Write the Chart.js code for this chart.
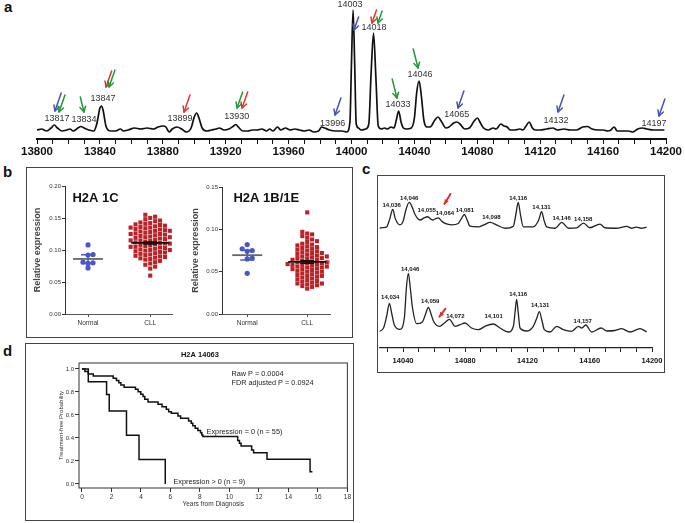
<!DOCTYPE html>
<html>
<head>
<meta charset="utf-8">
<script src="https://cdn.jsdelivr.net/npm/chart.js@4.4.1/dist/chart.umd.min.js"></script>
<style>
  body { margin: 0; background: #fff; }
  #wrap { position: relative; width: 685px; height: 523px; overflow: hidden; font-family: "Liberation Sans", Arial, sans-serif; }
  canvas { position: absolute; }
  .box { position: absolute; border: 1.5px solid #444; box-sizing: border-box; }
  .tag { position: absolute; font-weight: bold; font-size: 15px; line-height: 15px; color: #111; }
</style>
</head>
<body>
<div id="wrap">
  <div class="box" style="left:26px;top:167px;width:327px;height:171px"></div>
  <div class="box" style="left:377px;top:175px;width:288px;height:198px"></div>
  <div class="box" style="left:25px;top:343px;width:329px;height:178px"></div>
  <div class="tag" style="left:4px;top:-1px">a</div>
  <div class="tag" style="left:3px;top:164px">b</div>
  <div class="tag" style="left:362px;top:161px">c</div>
  <div class="tag" style="left:3px;top:343px">d</div>
  <canvas id="chartA" width="685" height="165" style="left:0;top:0"></canvas>
  <canvas id="chartB1" width="150" height="158" style="left:30px;top:175px"></canvas>
  <canvas id="chartB2" width="160" height="158" style="left:185px;top:175px"></canvas>
  <canvas id="chartCTop" width="300" height="82" style="left:370px;top:176px"></canvas>
  <canvas id="chartCBot" width="300" height="115" style="left:370px;top:258px"></canvas>
  <canvas id="chartD" width="325" height="174" style="left:27px;top:345px"></canvas>
</div>
<script>
// ---- panel a: intact mass spectrum ----
const specMass = [13800, 13803, 13806, 13809, 13811, 13813, 13816, 13819, 13821, 13823, 13826, 13828, 13830, 13833, 13836, 13838, 13840, 13841, 13842, 13844,
  13847, 13850, 13853, 13855, 13858, 13862, 13866, 13870, 13874, 13877, 13880, 13882, 13884, 13886, 13889, 13892, 13895, 13898, 13900, 13901.5,
  13903, 13905, 13908, 13911, 13914, 13916, 13919, 13922, 13925, 13926.5, 13928, 13931, 13934, 13937, 13940, 13943, 13946, 13948, 13950, 13953,
  13955, 13958, 13961, 13964, 13967, 13970, 13973, 13976, 13979, 13981, 13983, 13986, 13990, 13994, 13997, 13999, 14000, 14001, 14002, 14003,
  14004.5, 14006, 14009, 14011, 14012.5, 14014, 14015.5, 14017, 14019, 14021, 14023, 14025, 14027, 14028.5, 14030, 14031.5, 14033, 14035, 14038, 14040,
  14041.5, 14043, 14044.5, 14046, 14048, 14050, 14053, 14055, 14057, 14060, 14062, 14065, 14067, 14069, 14072, 14075, 14078, 14080, 14082, 14084,
  14087, 14090, 14092, 14095, 14097, 14099, 14101, 14104, 14107, 14109, 14111, 14113, 14115, 14117, 14120, 14124, 14128, 14131, 14135, 14139,
  14143, 14147, 14150, 14153, 14157, 14160, 14163, 14165, 14167, 14169, 14172, 14176, 14179, 14182, 14185, 14188, 14192, 14196, 14199];
const specInt = [2, 3, 1, 4, 7, 4, 1, 2, 3, 1, 4, 5.5, 4, 2, 1, 8, 24, 26, 22, 5,
  1, 1, 3, 1, 2, 4, 3, 4, 3, 5, 6, 5, 0, 3, 5, 3, 0, 4, 15, 19,
  14, 4, 1, 2, 3, 4, 2, 3, 6, 7.5, 5, 1, 1, 2, 2, 3, 1, 3, 1, 5,
  2, 4, 2, 3, 2, 1, 2, 0, 1, 5, 4, 2, 1, 1, 0, 10, 70, 122, 70, 8,
  4, 2, 3, 8, 60, 99, 55, 6, 3, 4, 3, 5, 4, 12, 21, 10, 4, 3, 4, 14,
  40, 51, 35, 12, 5, 5, 12, 15, 11, 4, 5, 9, 10, 8, 3, 4, 11, 14, 9, 4,
  2, 4, 3, 8, 6, 5, 2, 2, 3, 2, 6, 10, 4, 2, 2, 3, 4, 2, 3, 2,
  2, 5, 5.5, 3, 2, 2, 1, 2, 5, 1, 1, 1, 0, 3, 4, 3, 2, 2, 2];
const peakText = ['13817', '13834', '13847', '13899', '13930', '13996', '14003', '14018', '14033', '14046', '14065', '14132', '14197'];
const peakMass = [13812.7, 13829.9, 13842, 13891, 13927, 13988, 13999, 14014.3, 14029.6, 14043.6, 14067, 14130, 14192.4];
const peakInt = [13, 12, 33, 13, 15, 8, 127, 104, 27, 57, 17, 11, 8];

const BLUE = '#4352b8', GREEN = '#22983a', RED = '#e2352a';
const arrowColor = [BLUE, GREEN, GREEN, RED, GREEN, RED, GREEN, RED, BLUE, BLUE, RED, GREEN, GREEN, GREEN, BLUE, BLUE, BLUE];
const arrowMass = [13811.4, 13814, 13829.9, 13843.9, 13845.8, 13893.5, 13927.2, 13930.4, 13989.5, 14001.6, 14013, 14016.8, 14028.9, 14042.3, 14067.7, 14131.3, 14195.5];
const arrowInt = [21, 20, 20, 45, 45, 20, 24, 24, 17, 102, 109, 109, 34, 64, 24, 20, 16];
const arrowLean = [-1, -1, 1, -1, -1, -1, -1, -1, -1, -1, -1, -1, 1, 1, -1, -1, -1];
const arrowLen = [18, 17, 15, 16, 17, 17, 16, 16, 17, 13, 13, 12, 19, 19, 17, 17, 17];

// ---- panel b: relative expression ----
const groups = ['Normal', 'CLL'];
const normal1C = [0.108, 0.093, 0.092, 0.081, 0.080, 0.079, 0.072];
const cll1C = [0.155, 0.152, 0.150, 0.148, 0.146, 0.145, 0.143, 0.142, 0.141, 0.140,
  0.139, 0.138, 0.137, 0.136, 0.135, 0.135, 0.134, 0.133, 0.132, 0.131,
  0.130, 0.130, 0.129, 0.128, 0.127, 0.126, 0.125, 0.125, 0.124, 0.123,
  0.122, 0.121, 0.120, 0.120, 0.119, 0.118, 0.117, 0.116, 0.115, 0.115,
  0.114, 0.113, 0.112, 0.111, 0.110, 0.110, 0.109, 0.108, 0.107, 0.106,
  0.105, 0.105, 0.104, 0.103, 0.102, 0.101, 0.100, 0.100, 0.099, 0.098,
  0.097, 0.096, 0.095, 0.094, 0.093, 0.092, 0.091, 0.090, 0.089, 0.088,
  0.087, 0.086, 0.085, 0.083, 0.081, 0.079, 0.077, 0.074, 0.071, 0.060];
const normal1B = [0.082, 0.077, 0.075, 0.074, 0.066, 0.065, 0.048];
const cll1B = [0.120, 0.097, 0.095, 0.094, 0.092, 0.090, 0.088, 0.086, 0.085, 0.083,
  0.082, 0.081, 0.080, 0.079, 0.078, 0.077, 0.076, 0.075, 0.074, 0.073,
  0.072, 0.072, 0.071, 0.070, 0.069, 0.068, 0.068, 0.067, 0.066, 0.066,
  0.065, 0.064, 0.064, 0.063, 0.062, 0.062, 0.061, 0.061, 0.060, 0.060,
  0.059, 0.059, 0.058, 0.058, 0.057, 0.056, 0.056, 0.055, 0.055, 0.054,
  0.053, 0.053, 0.052, 0.051, 0.050, 0.050, 0.049, 0.048, 0.047, 0.046,
  0.045, 0.045, 0.044, 0.043, 0.042, 0.041, 0.040, 0.039, 0.038, 0.037,
  0.036, 0.036, 0.035, 0.034, 0.033, 0.032, 0.030];
const mean1C = [0.086, 0.111], sem1C = [0.0065, 0.0015];
const mean1B = [0.0695, 0.0615], sem1B = [0.0058, 0.0015];

// ---- panel c: zoomed spectra ----
const cTopMass = [14024, 14027, 14029.5, 14031.5, 14033.4, 14035, 14038, 14040, 14042, 14044, 14046, 14047.7, 14051, 14053.5, 14055.6, 14057.5, 14059, 14061, 14062.7, 14065,
  14067, 14071.3, 14075.5, 14077.5, 14079.4, 14081.2, 14083, 14088.4, 14092, 14096, 14100, 14105.6, 14110.9, 14112.5, 14114, 14115.6, 14117.3, 14123.7, 14127.2, 14129,
  14130.8, 14132.3, 14137.7, 14142, 14146.4, 14151.6, 14156, 14160, 14166.6, 14169.8, 14177, 14183.8, 14187, 14190, 14193, 14196.6];
const cTopInt = [0, 1, 2, 14, 27.5, 14, 5, 10, 28, 37.5, 30, 20, 12, 15, 16.7, 14, 12, 14, 15, 10,
  7, 5, 7, 14, 20, 12, 3, 2, 5, 8.5, 5, 0, 3, 20, 37.5, 18, 2, 2, 12, 24,
  10, 2, 0, 8.5, 0, 0.7, 7.5, 0.7, 6, 0.7, 0, 2.7, 0, 1.7, 0, 1.7];
const cBotMass = [14023, 14027.3, 14029.5, 14031.2, 14032.8, 14034.4, 14038, 14040.9, 14042.2, 14043.4, 14044.6, 14046, 14048.8, 14052.4, 14054.5, 14056.3, 14058, 14059.5, 14063.4, 14066.6,
  14069.8, 14073.4, 14076.6, 14079.8, 14084, 14088.4, 14092.7, 14098, 14102.3, 14107.7, 14110.9, 14112, 14113, 14114, 14115.2, 14119.5, 14123.7, 14126, 14127.6, 14129.2,
  14130.8, 14134.5, 14138.8, 14143, 14148.4, 14152.7, 14154.9, 14157.4, 14161.3, 14167.3, 14171, 14176.2, 14180.5, 14185.9, 14192.3, 14196.6];
const cBotInt = [0, 3.5, 16, 28.7, 18, 7, 2.7, 15, 45, 58.7, 45, 25, 8.3, 10, 18, 24.7, 18, 11, 5.7, 9,
  12.7, 5.7, 7.3, 9, 4, 2.3, 5.7, 8, 4, 0, 5.7, 20, 32.7, 20, 4, 1, 5.7, 14, 20.3, 12,
  2.3, 0, 5.7, 2.3, 0.7, 5.7, 4, 7, 0, 4, 1, 1.5, 3.3, 0, 3.3, 0];
const cTopText = ['14,036', '14,046', '14,055', '14,064', '14,081', '14,098', '14,116', '14,131', '14,146', '14,158'];
const cTopLabMass = [14032.7, 14044, 14055.2, 14066.9, 14079.7, 14096.8, 14114, 14129, 14141.9, 14155.8];
const cTopLabInt = [33.7, 43, 26.3, 21, 26.3, 15.3, 43, 29.7, 14.3, 13];
const cBotText = ['14,034', '14,046', '14,059', '14,072', '14,101', '14,116', '14,131', '14,157'];
const cBotLabMass = [14031.8, 14044.6, 14057.5, 14073.6, 14098.2, 14114, 14128.1, 14155.5];
const cBotLabInt = [34.7, 62.7, 30.3, 16, 15.3, 38, 27, 10.3];

// ---- panel d: Kaplan-Meier ----
const kmTime0 = [0, 0.20, 0.43, 0.77, 2.12, 2.34, 2.50, 2.64, 2.86, 3.63, 3.81, 3.99, 4.14, 4.26, 4.48, 5.16, 5.43, 5.72, 5.88, 6.06,
  6.51, 6.69, 7.23, 7.41, 7.52, 7.68, 7.86, 8.04, 8.13, 8.20, 10.56, 10.68, 10.79, 11.51, 11.64, 12.55, 15.47, 15.63];
const kmSurv0 = [1.0, 0.977, 0.957, 0.939, 0.919, 0.899, 0.880, 0.861, 0.841, 0.823, 0.803, 0.780, 0.760, 0.737, 0.713, 0.693, 0.672, 0.649, 0.629, 0.614,
  0.591, 0.571, 0.548, 0.528, 0.507, 0.484, 0.464, 0.446, 0.426, 0.413, 0.377, 0.354, 0.330, 0.296, 0.272, 0.214, 0.107, 0.107];
const kmTime1 = [0, 0.43, 1.67, 1.85, 3.02, 3.87, 5.65];
const kmSurv1 = [1.0, 0.889, 0.778, 0.635, 0.423, 0.212, 0];

const FONT = '"Liberation Sans", Arial, sans-serif';
Chart.defaults.font.family = FONT;
Chart.defaults.color = '#222';
Chart.defaults.animation = false;
Chart.defaults.plugins.legend.display = false;
Chart.defaults.plugins.tooltip.enabled = false;

function pts(xs, ys) {
    return xs.map((v, i) => ({ x: v, y: ys[i] }));
}

// text placed in data coordinates
function noteLayer(items) {
    return {
        id: 'noteLayer',
        afterDatasetsDraw(chart) {
            const { ctx, scales: { x, y } } = chart;
            ctx.save();
            items.forEach(n => {
                ctx.font = n.font;
                ctx.fillStyle = n.color || '#222';
                ctx.textAlign = n.align || 'center';
                ctx.textBaseline = 'middle';
                ctx.fillText(n.text, x.getPixelForValue(n.x), y.getPixelForValue(n.y));
            });
            ctx.restore();
        }
    };
}

// arrows whose head sits on a data point, tail offset in pixels
function arrowLayer(items) {
    return {
        id: 'arrowLayer',
        afterDatasetsDraw(chart) {
            const { ctx, scales: { x, y } } = chart;
            ctx.save();
            ctx.lineCap = 'round';
            ctx.lineJoin = 'round';
            items.forEach(a => {
                const hx = x.getPixelForValue(a.x), hy = y.getPixelForValue(a.y);
                const tx = hx + a.dx, ty = hy + a.dy;
                const ang = Math.atan2(hy - ty, hx - tx);
                ctx.strokeStyle = a.color;
                ctx.fillStyle = a.color;
                ctx.lineWidth = a.w;
                ctx.beginPath();
                ctx.moveTo(tx, ty);
                ctx.lineTo(hx, hy);
                ctx.stroke();
                ctx.beginPath();
                ctx.moveTo(hx - a.head * Math.cos(ang - 0.5), hy - a.head * Math.sin(ang - 0.5));
                ctx.lineTo(hx, hy);
                ctx.lineTo(hx - a.head * Math.cos(ang + 0.5), hy - a.head * Math.sin(ang + 0.5));
                if (a.fill) { ctx.closePath(); ctx.fill(); } else { ctx.stroke(); }
            });
            ctx.restore();
        }
    };
}

// simple beeswarm: stack equal values side by side
function swarm(values, center, stepX, stepY) {
    const placed = [];
    return values.slice().sort((a, b) => a - b).map(v => {
        let k = 0, off = 0;
        while (true) {
            off = k === 0 ? 0 : (k % 2 ? 1 : -1) * Math.ceil(k / 2) * stepX;
            if (!placed.some(p => Math.abs(p.y - v) < stepY && Math.abs(p.x - off) < stepX * 0.99)) break;
            k++;
        }
        placed.push({ x: off, y: v });
        return { x: center + off, y: v };
    });
}

// ===== a =====
new Chart(document.getElementById('chartA').getContext('2d'), {
    type: 'line',
    data: {
        datasets: [{
            data: pts(specMass, specInt),
            borderColor: '#111',
            borderWidth: 1.7,
            pointRadius: 0,
            cubicInterpolationMode: 'monotone'
        }]
    },
    options: {
        responsive: false,
        layout: { padding: { left: 37, right: 19, top: 5, bottom: 0 } },
        scales: {
            x: {
                type: 'linear', min: 13800, max: 14200,
                ticks: {
                    stepSize: 10, autoSkip: false, maxRotation: 0, padding: 1, color: '#111',
                    font: { size: 11.5, weight: 'bold' },
                    callback: v => (v % 40 === 0 ? String(v) : '')
                },
                grid: { drawOnChartArea: false, tickLength: 5, color: '#111' },
                border: { color: '#111', width: 2 },
                afterFit: s => { s.height = 26; }
            },
            y: { display: false, min: -7, max: 127 }
        }
    },
    plugins: [
        noteLayer(peakText.map((t, i) => ({ text: t, x: peakMass[i], y: peakInt[i], font: '9px ' + FONT, color: '#333' }))),
        arrowLayer(arrowColor.map((c, i) => ({
            color: c, x: arrowMass[i], y: arrowInt[i],
            dx: arrowLean[i] < 0 ? arrowLen[i] * 0.35 : -arrowLen[i] * 0.25, dy: -arrowLen[i],
            w: 1.5, head: 6, fill: false
        })))
    ]
});

// ===== b =====
function dotChart(canvasId, cfg) {
    const pxX = cfg.areaW / (cfg.xMax - cfg.xMin), pxY = cfg.areaH / cfg.yMax;
    const meanLayer = {
        id: 'meanLayer',
        afterDatasetsDraw(chart) {
            const { ctx, scales: { x, y } } = chart;
            ctx.save();
            cfg.mean.forEach((m, i) => {
                const cx = x.getPixelForValue(i + 1);
                const lo = y.getPixelForValue(m - cfg.sem[i]), hi = y.getPixelForValue(m + cfg.sem[i]);
                ctx.strokeStyle = i === 0 ? '#4a57c8' : '#111';
                ctx.lineWidth = 1.5;
                ctx.beginPath();
                ctx.moveTo(cx, lo); ctx.lineTo(cx, hi);
                ctx.moveTo(cx - 7, lo); ctx.lineTo(cx + 7, lo);
                ctx.moveTo(cx - 7, hi); ctx.lineTo(cx + 7, hi);
                ctx.stroke();
                ctx.strokeStyle = i === 0 ? '#666' : '#111';
                ctx.lineWidth = 1.8;
                const half = i === 0 ? 15 : 19;
                ctx.beginPath();
                ctx.moveTo(cx - half, y.getPixelForValue(m));
                ctx.lineTo(cx + half, y.getPixelForValue(m));
                ctx.stroke();
            });
            ctx.restore();
        }
    };
    new Chart(document.getElementById(canvasId).getContext('2d'), {
        type: 'scatter',
        data: {
            datasets: [{
                data: swarm(cfg.normal, 1, 5 / pxX, 4.4 / pxY),
                pointStyle: 'circle', pointRadius: 2.6, pointBackgroundColor: '#4a57c8', pointBorderWidth: 0
            }, {
                data: swarm(cfg.cll, 2, 4.9 / pxX, 4.0 / pxY),
                pointStyle: 'rect', pointRadius: 2.9, pointBackgroundColor: '#bb2228', pointBorderWidth: 0
            }]
        },
        options: {
            responsive: false,
            layout: { padding: { left: 0, top: cfg.padTop, right: cfg.padRight, bottom: 0 } },
            scales: {
                x: {
                    type: 'linear', min: cfg.xMin, max: cfg.xMax,
                    ticks: {
                        stepSize: 1, includeBounds: false, autoSkip: false, maxRotation: 0, padding: 2,
                        color: '#333', font: { size: 6.5 },
                        callback: v => groups[v - 1] || ''
                    },
                    grid: { drawOnChartArea: false, tickLength: 3, color: '#555' },
                    border: { color: '#555', width: 1 },
                    afterFit: s => { s.height = 19; }
                },
                y: {
                    min: 0, max: cfg.yMax,
                    ticks: { stepSize: 0.05, padding: 1, color: '#333', font: { size: 6 }, callback: v => v.toFixed(2) },
                    grid: { drawOnChartArea: false, tickLength: 3, color: '#333' },
                    border: { color: '#333', width: 1 },
                    title: { display: true, text: 'Relative expression', color: '#444', font: { size: 9, weight: 'bold' }, padding: { top: cfg.titlePad, bottom: 0 } },
                    afterFit: s => { s.width = cfg.axisW; }
                }
            }
        },
        plugins: [
            meanLayer,
            noteLayer([{ text: cfg.title, x: cfg.titleX, y: cfg.titleY, align: 'left', font: 'bold 13px ' + FONT, color: '#111' }])
        ]
    });
}

dotChart('chartB1', {
    normal: normal1C, cll: cll1C, mean: mean1C, sem: sem1C, title: 'H2A 1C',
    xMin: 0.63, xMax: 2.35, yMax: 0.20, areaW: 107, areaH: 128,
    axisW: 35, padTop: 11, padRight: 8, titlePad: 2.5, titleX: 0.75, titleY: 0.181
});
dotChart('chartB2', {
    normal: normal1B, cll: cll1B, mean: mean1B, sem: sem1B, title: 'H2A 1B/1E',
    xMin: 0.58, xMax: 2.38, yMax: 0.15, areaW: 108, areaH: 127,
    axisW: 37, padTop: 12, padRight: 15, titlePad: 5.5, titleX: 0.77, titleY: 0.137
});

// ===== c =====
function specOptions(showAxis, pad, yMin, yMax) {
    return {
        responsive: false,
        layout: { padding: pad },
        scales: {
            x: {
                type: 'linear', min: 14025, max: 14200, display: showAxis,
                ticks: {
                    stepSize: 10, includeBounds: false, autoSkip: false, maxRotation: 0, padding: 4, color: '#111',
                    font: { size: 7.5, weight: 'bold' },
                    callback: v => (v % 40 === 0 ? String(v) : '')
                },
                grid: { drawOnChartArea: false, tickLength: 4, color: '#222' },
                border: { color: '#222', width: 1.3 },
                afterFit: s => { s.height = 25; }
            },
            y: { display: false, min: yMin, max: yMax }
        }
    };
}
function specSet(xs, ys) {
    return { data: pts(xs, ys), borderColor: '#222', borderWidth: 1.3, pointRadius: 0, cubicInterpolationMode: 'monotone' };
}

new Chart(document.getElementById('chartCTop').getContext('2d'), {
    type: 'line',
    data: { datasets: [specSet(cTopMass, cTopInt)] },
    options: specOptions(false, { left: 9.7, right: 18, top: 0, bottom: 2 }, -4, 76),
    plugins: [
        noteLayer(cTopText.map((t, i) => ({ text: t, x: cTopLabMass[i], y: cTopLabInt[i], font: 'bold 6px ' + FONT, color: '#111' }))),
        arrowLayer([{ color: '#e0302a', x: 14066.6, y: 35.3, dx: 6, dy: -10, w: 2, head: 5, fill: true }])
    ]
});
new Chart(document.getElementById('chartCBot').getContext('2d'), {
    type: 'line',
    data: { datasets: [specSet(cBotMass, cBotInt)] },
    options: specOptions(true, { left: 9.7, right: 18, top: 4, bottom: 0 }, -16, 70),
    plugins: [
        noteLayer(cBotText.map((t, i) => ({ text: t, x: cBotLabMass[i], y: cBotLabInt[i], font: 'bold 6px ' + FONT, color: '#111' }))),
        arrowLayer([{ color: '#e0302a', x: 14063.4, y: 15.3, dx: 6, dy: -8, w: 2, head: 5, fill: true }])
    ]
});

// ===== d =====
const frameLayer = {
    id: 'frameLayer',
    afterDraw(chart) {
        const { ctx, chartArea: a } = chart;
        ctx.save();
        ctx.strokeStyle = '#333';
        ctx.lineWidth = 1;
        ctx.strokeRect(a.left, a.top, a.right - a.left, a.bottom - a.top);
        ctx.restore();
    }
};
new Chart(document.getElementById('chartD').getContext('2d'), {
    type: 'line',
    data: {
        datasets: [
            { label: 'Expression = 0 (n = 55)', data: pts(kmTime0, kmSurv0), stepped: true, borderColor: '#111', borderWidth: 1.5, pointRadius: 0 },
            { label: 'Expression > 0 (n = 9)', data: pts(kmTime1, kmSurv1), stepped: true, borderColor: '#111', borderWidth: 1.5, pointRadius: 0 }
        ]
    },
    options: {
        responsive: false,
        layout: { padding: { left: 0, right: 4, top: 18, bottom: 0 } },
        scales: {
            x: {
                type: 'linear', min: -0.2, max: 18,
                ticks: { stepSize: 2, includeBounds: false, maxRotation: 0, padding: 1, color: '#333', font: { size: 6.5 } },
                grid: { drawOnChartArea: false, tickLength: 4, color: '#333' },
                border: { display: false },
                title: { display: true, text: 'Years from Diagnosis', color: '#333', font: { size: 6.5 }, padding: { top: 0, bottom: 11 } },
                afterFit: s => { s.height = 31; }
            },
            y: {
                min: -0.035, max: 1.052,
                ticks: { stepSize: 0.2, includeBounds: false, padding: 1, color: '#333', font: { size: 6 }, callback: v => v.toFixed(1) },
                grid: { drawOnChartArea: false, tickLength: 4, color: '#333' },
                border: { display: false },
                title: { display: true, text: 'Treatment-free Probability', color: '#333', font: { size: 6 }, padding: { top: 31, bottom: 0 } },
                afterFit: s => { s.width = 52; }
            }
        }
    },
    plugins: [
        frameLayer,
        noteLayer([
            { text: 'H2A 14063', x: 8.0, y: 1.12, font: 'bold 7.5px ' + FONT, color: '#111' },
            { text: 'Raw P = 0.0004', x: 10.14, y: 0.957, align: 'left', font: '7.3px ' + FONT },
            { text: 'FDR adjusted P = 0.0924', x: 10.14, y: 0.878, align: 'left', font: '7.3px ' + FONT },
            { text: 'Expression = 0 (n = 55)', x: 8.45, y: 0.452, align: 'left', font: '7.3px ' + FONT },
            { text: 'Expression > 0 (n = 9)', x: 6.2, y: 0.017, align: 'left', font: '7.3px ' + FONT }
        ])
    ]
});
</script>
</body>
</html>
